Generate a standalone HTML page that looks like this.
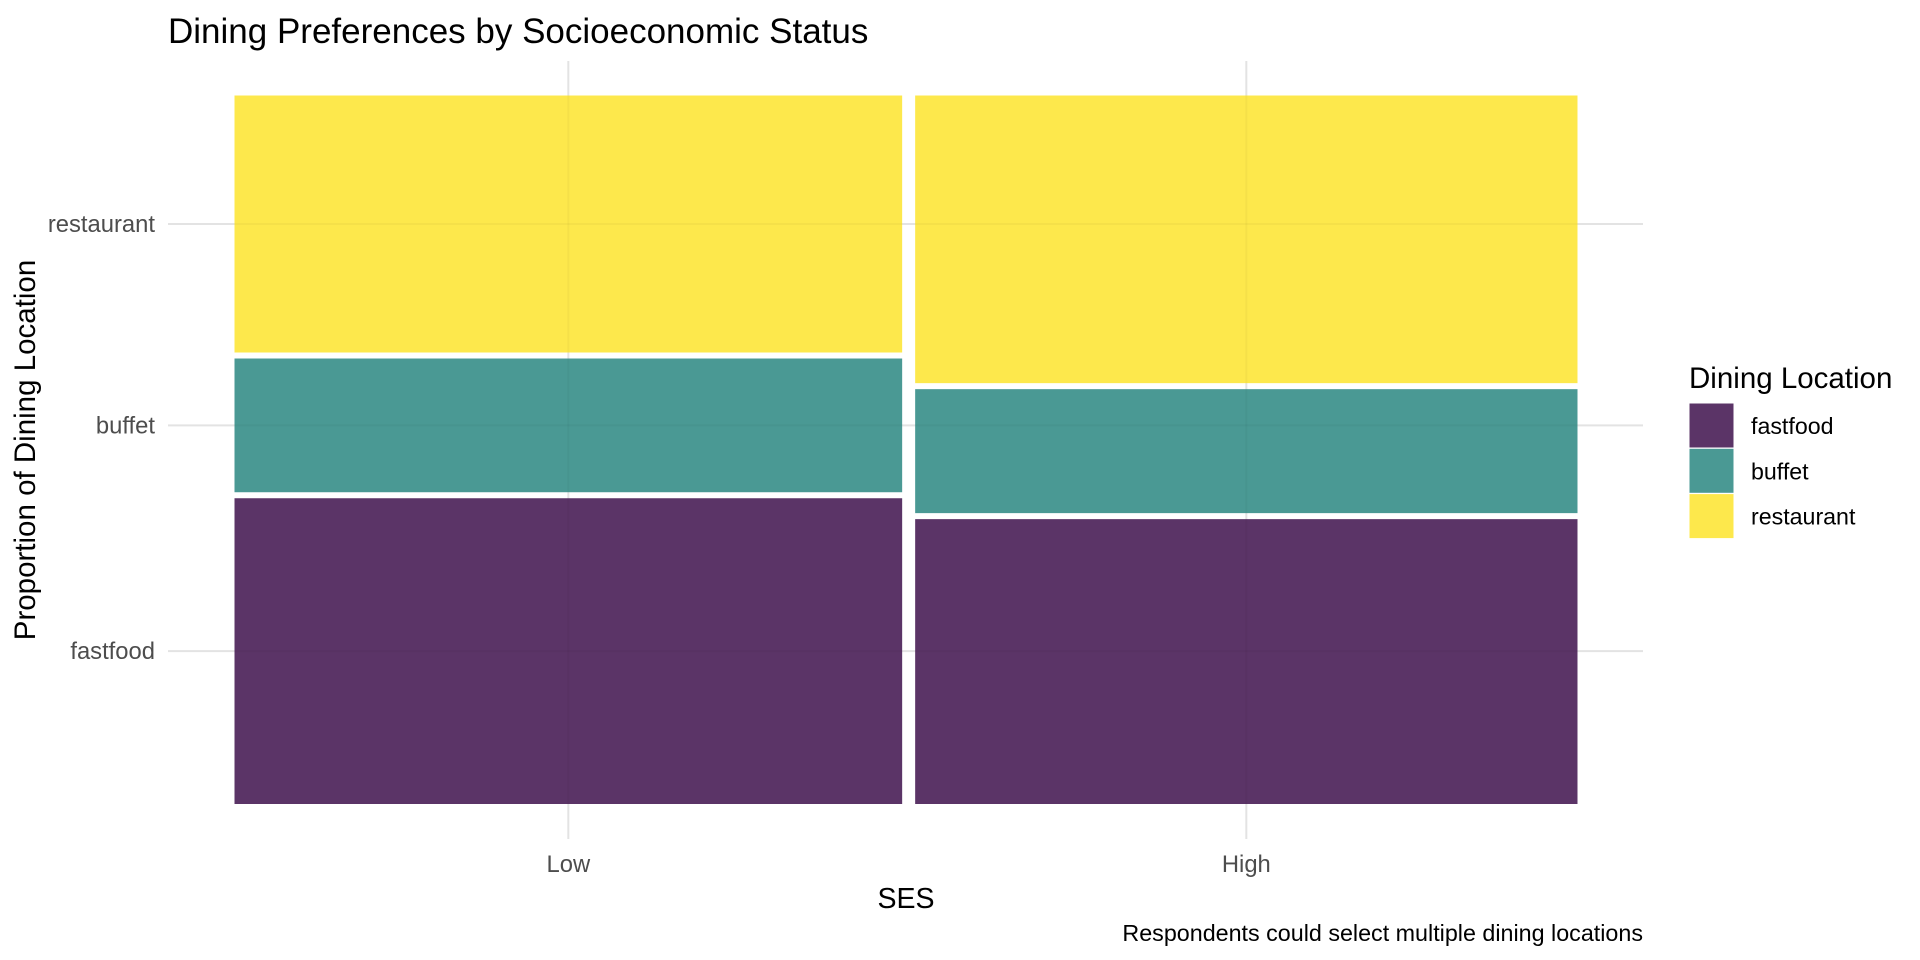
<!DOCTYPE html>
<html><head><meta charset="utf-8"><style>
html,body{margin:0;padding:0;background:#fff;}
svg{display:block;font-family:"Liberation Sans",Arial,sans-serif;}
</style></head><body>
<svg id="chart" width="1920" height="960" viewBox="0 0 1920 960" xmlns="http://www.w3.org/2000/svg">
<text x="168" y="43" font-size="35" fill="#000">Dining Preferences by Socioeconomic Status</text>
<g id="grid"></g>
<g id="bars"></g>
<g id="overlay"></g>
<g id="axes"></g>
<text x="906" y="908" font-size="28.5" text-anchor="middle" fill="#000">SES</text>
<text transform="translate(35,450) rotate(-90)" font-size="29.5" text-anchor="middle" fill="#000">Proportion of Dining Location</text>
<text x="1643" y="941" font-size="23.3" text-anchor="end" fill="#000">Respondents could select multiple dining locations</text>
<g id="legend">
<text x="1689" y="388" font-size="29.5" fill="#000">Dining Location</text>
</g>
</svg>
<script>
const categories = ["Low", "High"];
const columnShare = [0.502, 0.498];
const locations = ["fastfood", "buffet", "restaurant"];
const fastfoodShare = [0.439, 0.409];
const buffetShare = [0.192, 0.178];
const restaurantShare = [0.369, 0.413];
const colors = ["#5b3467", "#4a9994", "#fde84c"];

const NS = "http://www.w3.org/2000/svg";
const gGrid = document.getElementById("grid");
const gBars = document.getElementById("bars");
const gOver = document.getElementById("overlay");
const gAxes = document.getElementById("axes");
const gLeg = document.getElementById("legend");
const panel = {x0: 168, x1: 1643, y0: 61, y1: 839};
const plotL = 234.5, plotR = 1577.5, plotT = 95.5, plotB = 804;
const gapX = 13, gapY = 6;
function mk(tag, attrs, parent){const e=document.createElementNS(NS,tag);for(const k in attrs)e.setAttribute(k,attrs[k]);parent.appendChild(e);return e;}
const series = [fastfoodShare, buffetShare, restaurantShare];
const availW = (plotR - plotL) - gapX*(categories.length-1);
function xScale(cum){return plotL + cum*availW;}
const availH = (plotB - plotT) - gapY*(locations.length-1);
function yScale(cum){return plotB - cum*availH;}

let cum = 0;
const colCenters = [];
const firstMids = [];
categories.forEach((c,i)=>{
  const x = xScale(cum) + gapX*i;
  const w = columnShare[i]*availW;
  colCenters.push(x + w/2);
  let ycum = 0;
  locations.forEach((loc,j)=>{
    const h = series[j][i]*availH;
    const yb = yScale(ycum) - gapY*j;
    const r = mk("rect",{x:x,y:yb-h,width:w,height:h,fill:colors[j]},gBars);
    
    
    if(i===0) firstMids.push(yb - h/2);
    ycum += series[j][i];
  });
  cum += columnShare[i];
});
colCenters.forEach((cx,i)=>{
  const l = mk("line",{x1:cx,x2:cx,y1:panel.y0,y2:panel.y1,stroke:"#ebebeb","stroke-width":2},gGrid);
  
  
  mk("line",{x1:cx,x2:cx,y1:panel.y0,y2:panel.y1,stroke:"rgba(0,0,0,0.03)","stroke-width":2},gOver);
  const t = mk("text",{x:cx,y:872,"font-size":23.8,"text-anchor":"middle",fill:"#4d4d4d"},gAxes);
  t.textContent = categories[i];
  
  
});
firstMids.forEach((my,j)=>{
  const l = mk("line",{x1:panel.x0,x2:panel.x1,y1:my,y2:my,stroke:"#ebebeb","stroke-width":2},gGrid);
  
  
  mk("line",{x1:panel.x0,x2:panel.x1,y1:my,y2:my,stroke:"rgba(0,0,0,0.03)","stroke-width":2},gOver);
  const t = mk("text",{x:155,y:my+8,"font-size":23.8,"text-anchor":"end",fill:"#4d4d4d"},gAxes);
  t.textContent = locations[j];
  
  
});
locations.forEach((loc,j)=>{
  const y = 403 + j*45.3;
  const r = mk("rect",{x:1689,y:y,width:45,height:45,fill:colors[j],stroke:"#fff","stroke-width":1},gLeg);
  
  
  const t = mk("text",{x:1751,y:y+31,"font-size":23.2,fill:"#000"},gLeg);
  t.textContent = loc;
  
  
});
</script>
</body></html>
